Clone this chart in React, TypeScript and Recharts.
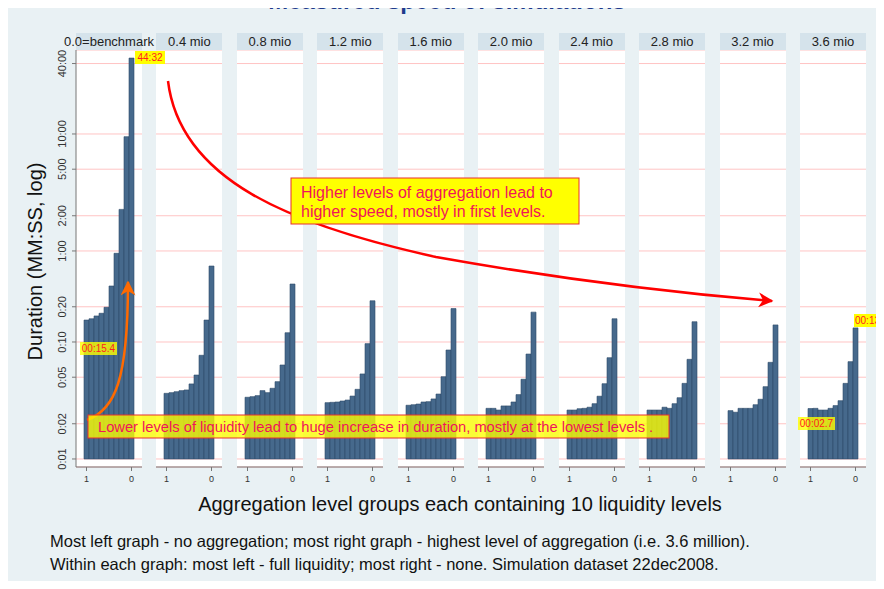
import React from "react";
import { BarChart, Bar, XAxis, YAxis, CartesianGrid } from "recharts";

// liquidity levels inside each group: full liquidity (1) down to none (0)
const liquidityLevels = ["1", "0.89", "0.78", "0.67", "0.56", "0.44", "0.33", "0.22", "0.11", "0"];

const groupLabels = [
  "0.0=benchmark",
  "0.4 mio",
  "0.8 mio",
  "1.2 mio",
  "1.6 mio",
  "2.0 mio",
  "2.4 mio",
  "2.8 mio",
  "3.2 mio",
  "3.6 mio",
];

// durations in seconds
const benchmark = [15.4, 15.8, 16.7, 17.6, 19.8, 30.1, 57.3, 136, 569, 2672];
const mio04 = [3.64, 3.69, 3.76, 3.84, 3.89, 4.38, 5.22, 7.7, 15.4, 44.6];
const mio08 = [3.37, 3.41, 3.48, 3.84, 3.69, 4.02, 4.58, 6.36, 12.0, 31.3];
const mio12 = [3.03, 3.05, 3.07, 3.13, 3.19, 3.45, 3.94, 5.33, 9.68, 22.5];
const mio16 = [2.88, 2.91, 2.95, 3.07, 3.09, 3.26, 3.59, 5.05, 8.54, 19.3];
const mio20 = [2.71, 2.71, 2.62, 2.84, 2.84, 3.07, 3.55, 4.8, 7.89, 18.0];
const mio24 = [2.62, 2.62, 2.69, 2.71, 2.77, 2.97, 3.44, 4.4, 7.34, 15.8];
const mio28 = [2.62, 2.62, 2.62, 2.77, 2.71, 2.97, 3.34, 4.43, 7.11, 14.9];
const mio32 = [2.59, 2.51, 2.71, 2.71, 2.71, 2.91, 3.24, 4.15, 6.7, 14.0];
const mio36 = [2.7, 2.71, 2.62, 2.62, 2.71, 2.86, 3.15, 4.43, 6.79, 13.2];

const durationsByGroup = [benchmark, mio04, mio08, mio12, mio16, mio20, mio24, mio28, mio32, mio36];

const yTicks = [1, 2, 5, 10, 20, 60, 120, 300, 600, 2400];
const yTickLabels = ["0:01", "0:02", "0:05", "0:10", "0:20", "1:00", "2:00", "5:00", "10:00", "40:00"];

const FONT = '"Liberation Sans", Arial, Helvetica, sans-serif';
const PANEL_LEFT = 76;
const PANEL_STEP = 80.44;
const PANEL_W = 66;
const PLOT_TOP = 50;
const PLOT_H = 417;
const XAXIS_H = 22;
const YAXIS_W = 30;
const Y_DOMAIN = [0.854, 3133];

function YTick(props: any) {
  const { x, y, payload } = props;
  const i = yTicks.indexOf(payload.value);
  const tx = x - 4;
  return (
    <text
      x={tx}
      y={y}
      transform={`rotate(-90, ${tx}, ${y})`}
      textAnchor="middle"
      fontSize={11}
      fill="#333"
      fontFamily={FONT}
    >
      {yTickLabels[i]}
    </text>
  );
}

function Panel({ index }: { index: number }) {
  const values = durationsByGroup[index];
  const data = liquidityLevels.map((liq, i) => ({ liq, range: [1, values[i]] }));
  const first = index === 0;
  const left = PANEL_LEFT + index * PANEL_STEP - (first ? YAXIS_W : 0);

  return (
    <div style={{ position: "absolute", left, top: PLOT_TOP }}>
      <BarChart
        width={PANEL_W + (first ? YAXIS_W : 0)}
        height={PLOT_H + XAXIS_H}
        data={data}
        margin={{ top: 0, right: 0, bottom: 0, left: 0 }}
        barCategoryGap={0}
        barGap={0}
      >
        <CartesianGrid vertical={false} stroke="#ffc4c4" fill="#ffffff" />
        <XAxis
          dataKey="liq"
          interval={8}
          height={XAXIS_H}
          tickSize={4}
          tickMargin={5}
          padding={{ left: 8, right: 8 }}
          tick={{ fontSize: 9, fill: "#333", fontFamily: FONT }}
          axisLine={{ stroke: "#777" }}
          tickLine={{ stroke: "#777" }}
        />
        <YAxis
          hide={!first}
          type="number"
          scale="log"
          domain={Y_DOMAIN}
          allowDataOverflow
          ticks={yTicks}
          interval={0}
          width={YAXIS_W}
          tickSize={4}
          tick={<YTick />}
          axisLine={{ stroke: "#777" }}
          tickLine={{ stroke: "#777" }}
        />
        <Bar dataKey="range" fill="#46698c" stroke="#2d4a68" strokeWidth={0.6} isAnimationActive={false} />
      </BarChart>
    </div>
  );
}

function Header({ index }: { index: number }) {
  return (
    <div
      style={{
        position: "absolute",
        left: PANEL_LEFT + index * PANEL_STEP,
        top: 33,
        width: PANEL_W,
        height: 17,
        background: "#d5e3eb",
        display: "flex",
        justifyContent: "center",
        alignItems: "center",
        fontSize: 13,
        color: "#222",
        whiteSpace: "nowrap",
      }}
    >
      <span>{groupLabels[index]}</span>
    </div>
  );
}

export default function App() {
  return (
    <div
      style={{
        position: "relative",
        width: 884,
        height: 589,
        margin: -8,
        background: "#ffffff",
        overflow: "hidden",
        fontFamily: FONT,
      }}
    >
      <div style={{ position: "absolute", left: 5, top: 5, width: 874, height: 581, background: "#e9f1f4" }} />

      {groupLabels.map((_, i) => (
        <Header key={"h" + i} index={i} />
      ))}
      {groupLabels.map((_, i) => (
        <Panel key={"p" + i} index={i} />
      ))}

      <div
        style={{
          position: "absolute",
          left: 5,
          top: 261,
          width: 62,
          height: 0,
          display: "flex",
          justifyContent: "center",
          alignItems: "center",
        }}
      >
        <span style={{ transform: "rotate(-90deg)", fontSize: 20, color: "#111", whiteSpace: "nowrap" }}>
          Duration (MM:SS, log)
        </span>
      </div>

      <div style={{ position: "absolute", left: 0, width: 920, top: 493, textAlign: "center", fontSize: 20, color: "#111" }}>
        Aggregation level groups each containing 10 liquidity levels
      </div>

      <div style={{ position: "absolute", left: 50, top: 530, fontSize: 16.5, color: "#111", lineHeight: "23px", whiteSpace: "nowrap" }}>
        <div>Most left graph - no aggregation; most right graph - highest level of aggregation (i.e. 3.6 million).</div>
        <div>Within each graph: most left - full liquidity; most right - none. Simulation dataset 22dec2008.</div>
      </div>

      <svg width={884} height={589} style={{ position: "absolute", left: 0, top: 0, pointerEvents: "none" }}>
        <defs>
          <marker id="redHead" viewBox="0 0 10 10" refX="9" refY="5" markerWidth="6" markerHeight="6" orient="auto">
            <path d="M0,0 L10,5 L0,10 L3,5 Z" fill="#ff0000" />
          </marker>
          <marker id="orangeHead" viewBox="0 0 10 10" refX="9" refY="5" markerWidth="6" markerHeight="6" orient="auto">
            <path d="M0,0 L10,5 L0,10 L3,5 Z" fill="#ff6a00" />
          </marker>
        </defs>

        <text x={447} y={9} textAnchor="middle" fontSize={24} fontWeight="bold" fill="#203a8c" fontFamily={FONT}>
          Measured speed of simulations
        </text>

        <path
          d="M168,81 C180,180 290,225 436,257 C520,272 640,290 772,301"
          fill="none"
          stroke="#ff0000"
          strokeWidth={2.5}
          markerEnd="url(#redHead)"
        />
        <path d="M87,420 C115,410 128,380 128,282" fill="none" stroke="#ff6a00" strokeWidth={2.5} markerEnd="url(#orangeHead)" />

        <rect x={291} y={178} width={288} height={46} fill="#ffff00" stroke="#e83030" strokeWidth={1} />
        <text x={301} y={198} fontSize={16} fill="#f0145a" fontFamily={FONT}>
          Higher levels of aggregation lead to
        </text>
        <text x={301} y={217} fontSize={16} fill="#f0145a" fontFamily={FONT}>
          higher speed, mostly in first levels.
        </text>

        <rect x={88} y={415} width={581} height={23} fill="rgba(255,255,0,0.78)" stroke="#e83030" strokeWidth={1} />
        <text x={98} y={432} fontSize={14.7} fill="#f0145a" fontFamily={FONT}>
          Lower levels of liquidity lead to huge increase in duration, mostly at the lowest levels .
        </text>

        <rect x={135} y={51} width={30} height={13} fill="#ffff00" />
        <text x={150} y={61} textAnchor="middle" fontSize={10} fill="#ff2020" fontFamily={FONT}>
          44:32
        </text>

        <rect x={80} y={342} width={37} height={13} fill="rgba(255,255,0,0.8)" />
        <text x={98.5} y={352} textAnchor="middle" fontSize={10} fill="#ff2020" fontFamily={FONT}>
          00:15.4
        </text>

        <rect x={798} y={417} width={37} height={13} fill="rgba(255,255,0,0.8)" />
        <text x={816.5} y={427} textAnchor="middle" fontSize={10} fill="#ff2020" fontFamily={FONT}>
          00:02.7
        </text>

        <rect x={854} y={314} width={30} height={13} fill="#ffff00" />
        <text x={855} y={324} fontSize={10} fill="#ff2020" fontFamily={FONT}>
          00:13
        </text>
      </svg>
    </div>
  );
}
